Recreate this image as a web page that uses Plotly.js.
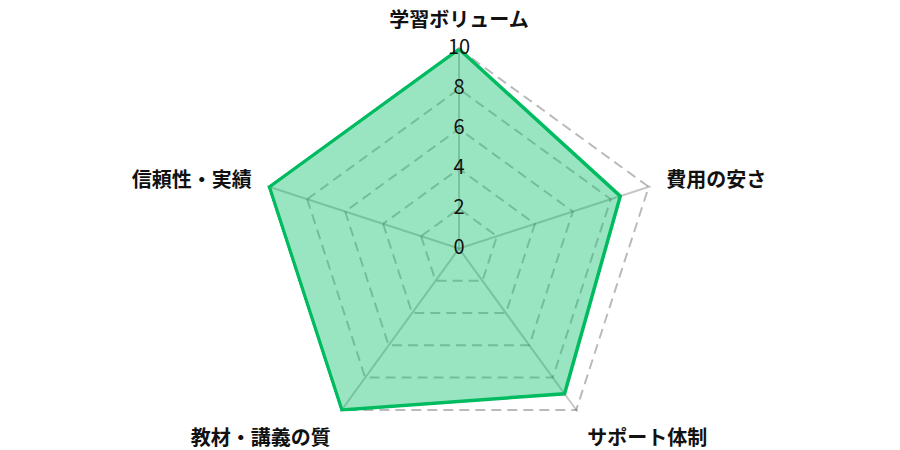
<!DOCTYPE html>
<html>
<head>
<meta charset="utf-8">
<script src="https://cdn.plot.ly/plotly-3.0.1.min.js"></script>
<style>
  html, body { margin: 0; padding: 0; background: #fff; }
  #chart { width: 900px; height: 450px; }
</style>
</head>
<body>
<div id="chart"></div>
<script>
// 評価項目とスコア
const categories = ["学習ボリューム", "費用の安さ", "サポート体制", "教材・講義の質", "信頼性・実績"];
const scores = [10, 8.5, 9, 10, 10];
const tickValues = [0, 2, 4, 6, 8, 10];
const tickLabels = ["0", "2", "4", "6", "8", "10"];
const maxScore = 10;

const jpFont = "'Noto Sans CJK JP', 'Noto Sans', sans-serif";
const closed = categories.concat([categories[0]]);

document.addEventListener("DOMContentLoaded", function () {
    const chartDiv = document.getElementById("chart");

    const traces = [
        {
            // 外周の破線（満点ライン）
            type: "scatterpolar",
            r: closed.map(function () { return maxScore; }),
            theta: closed,
            mode: "lines",
            line: { color: "rgba(0,0,0,0.27)", width: 2, dash: "10px,6px" },
            hoverinfo: "skip",
            showlegend: false
        },
        {
            type: "scatterpolar",
            r: scores.concat([scores[0]]),
            theta: closed,
            fill: "toself",
            fillcolor: "rgba(0,190,100,0.4)",
            line: { color: "#00bb5f", width: 3.5 },
            mode: "lines",
            hoverinfo: "skip",
            showlegend: false
        },
        {
            // 目盛ラベルは軸の上に中央揃えで置く（0は中心点）
            type: "scatterpolar",
            r: tickValues.map(function (v) { return v === 0 ? 1e-6 : v; }),
            theta: tickValues.map(function () { return categories[0]; }),
            mode: "text",
            text: tickLabels,
            textposition: "middle center",
            cliponaxis: false,
            textfont: { family: jpFont, size: 20, color: "#111" },
            hoverinfo: "skip",
            showlegend: false
        }
    ];

    const layout = {
        width: 900,
        height: 450,
        margin: { l: 18, r: 0, t: 47, b: 0 },
        paper_bgcolor: "#fff",
        showlegend: false,
        polar: {
            bgcolor: "rgba(0,0,0,0)",
            gridshape: "linear",
            radialaxis: {
                // 少し余白を持たせて外周の線が切れないようにする
                range: [0, maxScore * 1.01],
                tickvals: tickValues.slice(1, -1),
                showticklabels: false,
                ticks: "",
                showline: false,
                gridcolor: "rgba(0,0,0,0.25)",
                griddash: "10px,6px",
                gridwidth: 2,
                angle: 90
            },
            angularaxis: {
                direction: "clockwise",
                rotation: 90,
                showline: false,
                ticks: "outside",
                ticklen: 12,
                tickcolor: "rgba(0,0,0,0)",
                gridcolor: "rgba(0,0,0,0.22)",
                gridwidth: 2,
                tickfont: { family: jpFont, size: 20, weight: "bold", color: "#111" }
            }
        }
    };

    Plotly.newPlot(chartDiv, traces, layout, { staticPlot: true });
});
</script>
</body>
</html>
